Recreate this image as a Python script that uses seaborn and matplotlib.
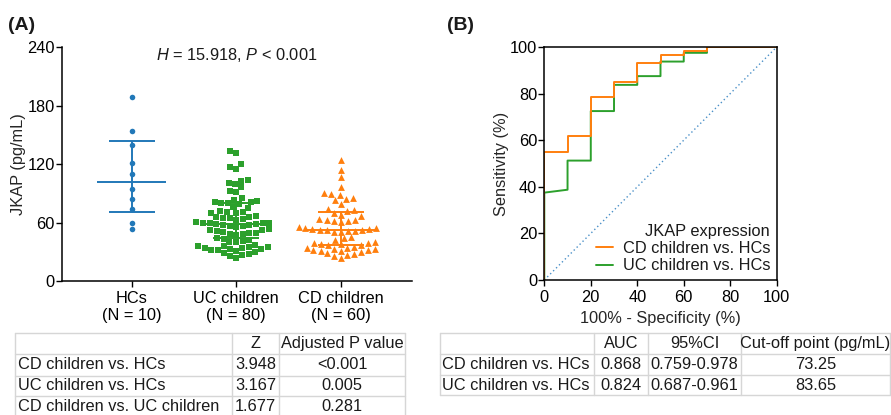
import numpy as np
import pandas as pd
import matplotlib
matplotlib.use("Agg")
import matplotlib.pyplot as plt
import seaborn as sns

# ---------------- data ----------------
groups = ["HCs", "UC children", "CD children"]
group_labels = ["HCs\n(N = 10)", "UC children\n(N = 80)", "CD children\n(N = 60)"]

hcs_values = [189, 154, 140, 121, 110, 94, 84, 73.5, 59, 53]
uc_values = [133, 131,
             120, 117, 115,
             104, 103, 101, 100, 96, 92, 91,
             85, 83, 82, 81, 81, 80, 80, 79,
             76, 75, 72, 71, 71, 70, 70,
             67, 66, 66, 65, 65, 64, 63,
             61, 60, 60, 59, 59, 58, 58, 57, 57, 56, 56, 55,
             53, 52, 52, 51, 50, 49, 49, 48, 48, 47,
             44, 43, 42, 41, 40, 40,
             37, 36, 36, 35, 35, 34, 34, 33, 33, 32, 32, 31,
             30, 29, 28, 27, 26, 24]
cd_values = [124, 114, 107, 96,
             90, 89, 88,
             85, 84, 83,
             79,
             74, 73, 72,
             70, 68, 67,
             64, 63, 63, 62, 62, 61,
             55, 54, 54, 53, 53, 52, 52, 52, 51, 51, 50, 50,
             45, 44, 42,
             40, 39, 39, 38, 38, 37, 37,
             35, 34, 34, 33, 33, 32, 32, 31, 31, 30,
             29, 28, 27, 26,
             24]

medians = [101.5, 58.0, 52.3]
q1_values = [70.4, 43.8, 37.0]
q3_values = [143.3, 80.0, 70.3]

stat_text = "$H$ = 15.918, $P$ < 0.001"

cd_fpr = [0, 0, 10, 10, 20, 20, 30, 30, 40, 40, 50, 50, 60, 60, 70, 70, 100]
cd_tpr = [0, 55, 55, 61.67, 61.67, 78.33, 78.33, 85, 85, 93.33, 93.33,
          96.67, 96.67, 98.33, 98.33, 100, 100]
uc_fpr = [0, 0, 10, 10, 20, 20, 30, 30, 40, 40, 50, 50, 60, 60, 70, 70, 100]
uc_tpr = [0, 37.5, 38.75, 51.25, 51.25, 72.5, 72.5, 83.75, 83.75, 87.5, 87.5,
          93.75, 93.75, 97.5, 97.5, 100, 100]
ref_line = [0, 100]

table_a_header = ["", "Z", "Adjusted P value"]
table_a_rows = [["CD children vs. HCs", "3.948", "<0.001"],
                ["UC children vs. HCs", "3.167", "0.005"],
                ["CD children vs. UC children", "1.677", "0.281"]]
table_b_header = ["", "AUC", "95%CI", "Cut-off point (pg/mL)"]
table_b_rows = [["CD children vs. HCs", "0.868", "0.759-0.978", "73.25"],
                ["UC children vs. HCs", "0.824", "0.687-0.961", "83.65"]]

# ---------------- style ----------------
sns.set_theme(style="ticks")
plt.rcParams["font.family"] = ["Liberation Sans", "DejaVu Sans"]
plt.rcParams["mathtext.fontset"] = "custom"
plt.rcParams["mathtext.rm"] = "Liberation Sans"
plt.rcParams["mathtext.it"] = "Liberation Sans:italic"
plt.rcParams["axes.edgecolor"] = "black"
plt.rcParams["xtick.color"] = "black"
plt.rcParams["ytick.color"] = "black"
plt.rcParams["text.color"] = "#1a1a1a"

FS = 11.8
FS_T = 11.8
BLUE, GREEN, ORANGE = "#2178b8", "#2ca02c", "#ff7f0e"
colors = [BLUE, GREEN, ORANGE]
markers = ["o", "s", "^"]
sizes = [4.0, 4.6, 4.9]

W, H = 891, 415
fig = plt.figure(figsize=(W / 100, H / 100), dpi=100)

def px_axes(left, top, right, bottom):
    return fig.add_axes([left / W, 1 - bottom / H, (right - left) / W, (bottom - top) / H])

# ---------------- panel A ----------------
axA = px_axes(61.7, 47, 411.7, 281)
all_vals = [hcs_values, uc_values, cd_values]
for i, (g, vals) in enumerate(zip(groups, all_vals)):
    df = pd.DataFrame({"group": [g] * len(vals), "value": vals})
    sns.swarmplot(data=df, x="group", y="value", order=groups, color=colors[i],
                  marker=markers[i], size=sizes[i], linewidth=0, ax=axA, zorder=3)

pos = np.arange(len(groups))
axA.hlines(medians, pos - 0.33, pos + 0.33, colors=colors, lw=1.4, zorder=4)
axA.hlines(q1_values, pos - 0.22, pos + 0.22, colors=colors, lw=1.4, zorder=4)
axA.hlines(q3_values, pos - 0.22, pos + 0.22, colors=colors, lw=1.4, zorder=4)
axA.vlines(pos, q1_values, q3_values, colors=colors, lw=1.4, zorder=4)

axA.set_xlim(-0.67, 2.68)
axA.set_ylim(0, 240)
axA.set_yticks([0, 60, 120, 180, 240])
axA.set_xticks(pos)
axA.set_xticklabels(group_labels, fontsize=FS)
axA.tick_params(axis="y", labelsize=FS, length=4, width=1, pad=1)
axA.tick_params(axis="x", length=4, width=1, pad=3)
axA.set_xlabel("")
axA.set_ylabel("JKAP (pg/mL)", fontsize=FS, labelpad=1)
for s in ["top", "right"]:
    axA.spines[s].set_visible(False)
for s in ["left", "bottom"]:
    axA.spines[s].set_linewidth(1.1)
axA.text(0.5, 0.966, stat_text, transform=axA.transAxes, ha="center", va="center",
         fontsize=FS)

# ---------------- panel B ----------------
axB = px_axes(544.3, 47, 776.7, 280)
sns.lineplot(x=ref_line, y=ref_line, sort=False, estimator=None, color="#4a90c8",
             lw=1.0, linestyle=(0, (1, 2)), ax=axB)
sns.lineplot(x=uc_fpr, y=uc_tpr, sort=False, estimator=None, color=GREEN, lw=1.4,
             ax=axB, label="UC children vs. HCs")
sns.lineplot(x=cd_fpr, y=cd_tpr, sort=False, estimator=None, color=ORANGE, lw=1.4,
             ax=axB, label="CD children vs. HCs")
axB.set_xlim(0, 100)
axB.set_ylim(0, 100)
axB.set_xticks(range(0, 101, 20))
axB.set_yticks(range(0, 101, 20))
axB.tick_params(labelsize=FS, length=4, width=1, pad=1)
axB.tick_params(axis="x", pad=3)
axB.set_xlabel("100% - Specificity (%)", fontsize=FS, labelpad=4.5)
axB.set_ylabel("Sensitivity (%)", fontsize=FS, labelpad=1)
for s in axB.spines.values():
    s.set_linewidth(1.1)
    s.set_visible(True)
handles, labels = axB.get_legend_handles_labels()
order = [labels.index("CD children vs. HCs"), labels.index("UC children vs. HCs")]
leg = axB.legend([handles[k] for k in order], [labels[k] for k in order],
                 title="JKAP expression", loc="lower right", frameon=False,
                 alignment="right", fontsize=FS, title_fontsize=FS,
                 handlelength=1.0, handletextpad=0.6, labelspacing=0.15,
                 borderaxespad=0.2, borderpad=0.2)

# ---------------- panel letters ----------------
fig.text(8 / W, 1 - 25 / H, "(A)", fontsize=14, fontweight="bold", va="center", ha="left")
fig.text(447 / W, 1 - 25 / H, "(B)", fontsize=14, fontweight="bold", va="center", ha="left")

# ---------------- tables ----------------
axT = fig.add_axes([0, 0, 1, 1], zorder=-1)
axT.set_xlim(0, W)
axT.set_ylim(H, 0)
axT.axis("off")
GRID = "#d6d6d6"

def draw_table(header, rows, col_edges, row_edges, align):
    for x in col_edges:
        axT.plot([x, x], [row_edges[0], row_edges[-1]], color=GRID, lw=1)
    for y in row_edges:
        axT.plot([col_edges[0], col_edges[-1]], [y, y], color=GRID, lw=1)
    for r, row in enumerate([header] + rows):
        yc = (row_edges[r] + row_edges[r + 1]) / 2
        for c, txt in enumerate(row):
            if align[c] == "left":
                axT.text(col_edges[c] + 2.5, yc, txt, ha="left", va="center", fontsize=FS_T)
            else:
                axT.text((col_edges[c] + col_edges[c + 1]) / 2, yc, txt, ha="center",
                         va="center", fontsize=FS_T)

draw_table(table_a_header, table_a_rows, [15, 231.7, 279.3, 405],
           [333.3, 354.3, 375.5, 396, 416.5], ["left", "center", "center"])
draw_table(table_b_header, table_b_rows, [440, 594, 648.3, 740.7, 890],
           [333.3, 354.3, 375, 395.3], ["left", "center", "center", "center"])

fig.savefig("out.png", dpi=100)
